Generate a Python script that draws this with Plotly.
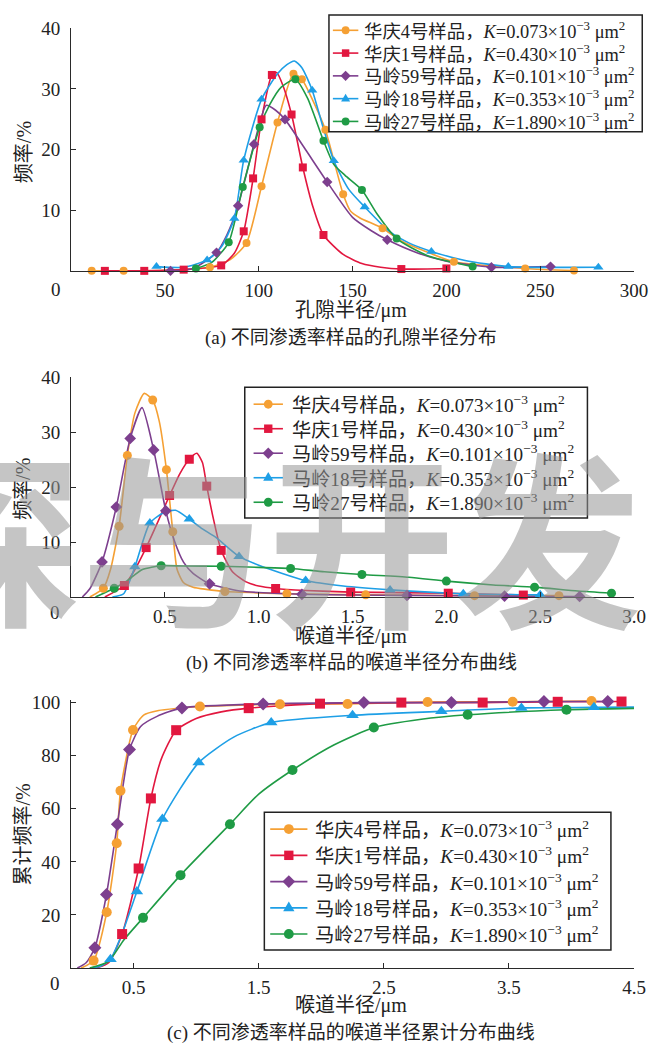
import plotly.graph_objects as go

# Window pixels; the page body margin is reset to 0 (post_script) so that
# figure pixels and window pixels coincide.
W, H = 668, 1045

names = ["华庆4号样品", "华庆1号样品", "马岭59号样品", "马岭18号样品", "马岭27号样品"]
k_values = ["0.073", "0.430", "0.101", "0.353", "1.890"]
colors = ["#F5A034", "#E2173F", "#7D3F8E", "#1E9FE6", "#1F9B45"]
symbols = ["circle", "square", "diamond", "triangle-up", "circle"]

# ---------------- (a) pore radius distribution ----------------
a_mx = [
    [11, 28, 74, 93.5, 101.5, 110, 118.5, 123, 135.5, 145, 166, 204, 242, 268],
    [18, 39, 60, 80, 92, 97, 101.5, 107, 117.5, 123.5, 134.5, 176, 200],
    [53, 77.5, 89, 97.5, 114, 136.5, 168.5, 224, 255.5],
    [45.5, 72.5, 87, 92, 101.5, 128.5, 140, 156.5, 192, 233, 281],
    [66.5, 84, 91.5, 100.5, 119.5, 134.5, 155, 173.5, 214],
]
a_my = [
    [0.1, 0.1, 0.7, 4.7, 14, 24.5, 32.5, 31.6, 23.3, 12.7, 7.1, 1.6, 0.5, 0.15],
    [0.1, 0.1, 0.3, 1.0, 6.6, 15.3, 25.0, 32.3, 25.8, 17.1, 6.0, 0.4, 0.5],
    [0.1, 3.1, 10.8, 20.9, 25.0, 14.7, 5.2, 0.7, 0.8],
    [0.8, 1.9, 8.7, 18.3, 28.3, 29.8, 18.2, 10.6, 3.3, 0.8, 0.7],
    [0.5, 4.8, 13.9, 23.7, 31.6, 21.5, 13.4, 5.4, 0.8],
]
a_lx = [
    [11, 28, 50, 74, 85, 93.5, 101.5, 110, 118.5, 123, 129, 135.5, 145, 149, 154, 166, 176, 188, 204, 242, 268],
    [18, 39, 60, 80, 87, 92, 97, 101.5, 107, 109.5, 113, 117.5, 123.5, 129, 134.5, 145, 155, 165, 176, 200],
    [53, 65, 77.5, 83, 89, 97.5, 104, 109, 114, 125, 136.5, 150, 160, 168.5, 185, 200, 224, 255.5],
    [45.5, 60, 72.5, 80, 87, 92, 101.5, 110, 115, 119, 123, 128.5, 134, 140, 148, 156.5, 170, 180, 192, 210, 233, 281],
    [66.5, 75, 84, 91.5, 100.5, 106, 112, 119.5, 126, 134.5, 140, 146, 155, 163, 173.5, 190, 214],
]
a_ly = [
    [0.1, 0.1, 0.2, 0.7, 2.0, 4.7, 14, 24.5, 32.5, 31.6, 28.0, 23.3, 12.7, 9.9, 8.8, 7.1, 5.0, 3.4, 1.6, 0.5, 0.15],
    [0.1, 0.1, 0.3, 1.0, 3.0, 6.6, 15.3, 25.0, 32.3, 32.7, 30.5, 25.8, 17.1, 10.5, 6.0, 2.8, 1.3, 0.7, 0.4, 0.5],
    [0.1, 0.5, 3.1, 6.0, 10.8, 20.9, 27.3, 26.5, 25.0, 20.0, 14.7, 8.9, 6.7, 5.2, 3.0, 1.7, 0.7, 0.8],
    [0.8, 0.7, 1.9, 4.0, 8.7, 18.3, 28.3, 32.5, 34.0, 34.6, 33.5, 29.8, 24.0, 18.2, 13.5, 10.6, 6.5, 4.7, 3.3, 1.8, 0.8, 0.7],
    [0.5, 1.5, 4.8, 13.9, 23.7, 27.5, 30.3, 31.6, 28.5, 21.5, 17.6, 15.8, 13.4, 9.5, 5.4, 2.6, 0.8],
]

# ---------------- (b) throat radius distribution ----------------
b_mx = [
    [0.172, 0.256, 0.30, 0.435, 0.508, 0.542, 0.82, 1.15, 1.57, 2.15, 2.6],
    [0.284, 0.40, 0.525, 0.63, 0.723, 0.80, 1.09, 1.49, 2.01, 2.41],
    [0.165, 0.241, 0.315, 0.44, 0.505, 0.738, 1.23, 1.79, 2.31, 2.71],
    [0.34, 0.42, 0.63, 0.895, 1.25, 1.70, 2.09, 2.50],
    [0.23, 0.48, 0.80, 1.17, 1.55, 2.0, 2.47, 2.88],
]
b_my = [
    [1.6, 12.9, 25.8, 35.9, 23.2, 11.9, 1.0, 0.6, 0.4, 0.25, 0.25],
    [2.1, 9.0, 18.5, 25.1, 20.2, 8.5, 1.55, 0.9, 0.7, 0.36],
    [6.4, 16.4, 28.9, 26.8, 15.7, 2.4, 0.5, 0.3, 0.15, 0.1],
    [5.5, 13.5, 14.2, 7.4, 3.0, 1.3, 0.6, 0.4],
    [1.6, 5.7, 5.6, 5.2, 4.1, 2.9, 1.8, 0.7],
]
b_lx = [
    [0.10, 0.172, 0.21, 0.256, 0.30, 0.34, 0.39, 0.435, 0.47, 0.508, 0.542, 0.565, 0.60, 0.65, 0.72, 0.82, 1.0, 1.15, 1.57, 2.15, 2.6],
    [0.18, 0.284, 0.34, 0.40, 0.46, 0.525, 0.58, 0.63, 0.67, 0.70, 0.723, 0.76, 0.80, 0.86, 0.93, 1.0, 1.09, 1.25, 1.49, 2.01, 2.41],
    [0.06, 0.10, 0.165, 0.241, 0.315, 0.378, 0.44, 0.505, 0.55, 0.60, 0.65, 0.738, 0.90, 1.23, 1.79, 2.31, 2.71],
    [0.22, 0.28, 0.34, 0.42, 0.50, 0.557, 0.63, 0.70, 0.77, 0.895, 1.0, 1.25, 1.45, 1.70, 2.09, 2.50],
    [0.13, 0.23, 0.30, 0.38, 0.48, 0.60, 0.80, 1.0, 1.17, 1.35, 1.55, 1.80, 2.0, 2.25, 2.47, 2.70, 2.88],
]
b_ly = [
    [0.0, 1.6, 5.0, 12.9, 25.8, 33.5, 37.1, 35.9, 32.0, 23.2, 11.9, 5.0, 2.6, 1.8, 1.4, 1.0, 0.75, 0.6, 0.4, 0.25, 0.25],
    [0.0, 2.1, 5.0, 9.0, 13.5, 18.5, 22.5, 25.1, 26.2, 24.5, 20.2, 14.0, 8.5, 4.6, 2.8, 2.0, 1.55, 1.2, 0.9, 0.7, 0.36],
    [0.0, 1.5, 6.4, 16.4, 28.9, 34.5, 26.8, 15.7, 10.3, 6.3, 4.3, 2.4, 1.1, 0.5, 0.3, 0.15, 0.1],
    [0.0, 0.6, 5.5, 13.5, 15.5, 15.8, 14.2, 12.4, 10.9, 7.4, 5.8, 3.0, 2.0, 1.3, 0.6, 0.4],
    [0.0, 1.6, 3.0, 5.0, 5.7, 5.65, 5.6, 5.4, 5.2, 4.6, 4.1, 3.6, 2.9, 2.2, 1.8, 1.1, 0.7],
]

# ---------------- (c) cumulative throat radius distribution ----------------
c_mx = [
    [0.18, 0.285, 0.365, 0.395, 0.495, 1.03, 1.67, 2.21, 2.85, 3.53, 4.16],
    [0.408, 0.54, 0.638, 0.84, 1.42, 1.99, 2.64, 3.29, 3.89, 4.40],
    [0.19, 0.283, 0.37, 0.467, 0.886, 1.535, 2.34, 3.04, 3.78, 4.29],
    [0.315, 0.526, 0.73, 1.02, 1.60, 2.25, 2.96, 3.60, 4.18],
    [0.575, 0.875, 1.27, 1.77, 2.42, 3.17, 3.96],
]
c_my = [
    [2.8, 21.0, 47.0, 66.8, 89.7, 98.5, 99.4, 99.5, 100.2, 100.3, 100.6],
    [12.8, 37.5, 63.9, 89.6, 97.9, 99.6, 100.0, 100.0, 100.3, 100.4],
    [7.6, 27.7, 54.2, 82.3, 98.0, 99.5, 100.0, 100.0, 100.4, 100.4],
    [3.3, 28.8, 56.1, 77.4, 92.5, 95.2, 96.7, 98.0, 98.2],
    [18.9, 35.0, 54.2, 74.6, 90.6, 95.4, 97.3],
]
c_lx = [
    [0.08, 0.18, 0.285, 0.365, 0.395, 0.495, 0.58, 0.70, 0.85, 1.03, 1.67, 2.21, 2.85, 3.53, 4.16],
    [0.20, 0.30, 0.408, 0.54, 0.638, 0.72, 0.84, 1.0, 1.2, 1.42, 1.99, 2.64, 3.29, 3.89, 4.40],
    [0.05, 0.12, 0.19, 0.283, 0.37, 0.467, 0.556, 0.687, 0.886, 1.535, 2.34, 3.04, 3.78, 4.29],
    [0.15, 0.24, 0.315, 0.40, 0.526, 0.73, 1.02, 1.30, 1.60, 2.25, 2.96, 3.60, 4.18, 4.50],
    [0.15, 0.30, 0.42, 0.575, 0.875, 1.27, 1.50, 1.77, 2.10, 2.42, 2.80, 3.17, 3.96, 4.50],
]
c_ly = [
    [0.0, 2.8, 21.0, 47.0, 66.8, 89.7, 95.3, 97.0, 97.8, 98.5, 99.4, 99.5, 100.2, 100.3, 100.6],
    [0.0, 2.0, 12.8, 37.5, 63.9, 78.6, 89.6, 94.0, 96.5, 97.9, 99.6, 100.0, 100.0, 100.3, 100.4],
    [0.0, 2.0, 7.6, 27.7, 54.2, 82.3, 91.0, 94.8, 98.0, 99.5, 100.0, 100.0, 100.4, 100.4],
    [0.0, 0.8, 3.3, 12.0, 28.8, 56.1, 77.4, 87.0, 92.5, 95.2, 96.7, 98.0, 98.2, 98.3],
    [0.0, 2.5, 10.5, 18.9, 35.0, 54.2, 65.5, 74.6, 84.0, 90.6, 93.7, 95.4, 97.3, 97.8],
]

# ---------------- texts & ticks ----------------
xtitles = ["孔隙半径/μm", "喉道半径/μm", "喉道半径/μm"]
ytitles = ["频率/%", "频率/%", "累计频率/%"]
captions = ["(a) 不同渗透率样品的孔隙半径分布",
            "(b) 不同渗透率样品的喉道半径分布曲线",
            "(c) 不同渗透率样品的喉道半径累计分布曲线"]
watermark = "探与开发"

x_ticks = [[50, 100, 150, 200, 250, 300],
           [0.5, 1.0, 1.5, 2.0, 2.5, 3.0],
           [0.5, 1.5, 2.5, 3.5, 4.5]]
x_ticktext = [["50", "100", "150", "200", "250", "300"],
              ["0.5", "1.0", "1.5", "2.0", "2.5", "3.0"],
              ["0.5", "1.5", "2.5", "3.5", "4.5"]]
y_ticks = [[10, 20, 30, 40], [10, 20, 30, 40], [20, 40, 60, 80, 100]]
x_ranges = [[0, 300], [0, 3], [0, 4.5]]
y_ranges = [[0, 40], [0, 40], [0, 101]]


def px2x(p):
    return p / W


def px2y(p):
    return 1 - p / H


x_dom = [px2x(72.6), px2x(647.6)]
y_doms = [[px2y(264.0), px2y(18.3)],
          [px2y(592.7), px2y(371.0)],
          [px2y(967.3), px2y(696.6)]]

FONT = "Liberation Serif, Noto Sans CJK SC, serif"
AXC = "#2a2a2a"
TXC = "#222222"

fig = go.Figure()

panels = [(a_mx, a_my, a_lx, a_ly), (b_mx, b_my, b_lx, b_ly), (c_mx, c_my, c_lx, c_ly)]
msizes = [8, 9, 10]

for p, (mx, my, lx, ly) in enumerate(panels):
    xa = "x" if p == 0 else f"x{p+1}"
    ya = "y" if p == 0 else f"y{p+1}"
    for i in range(5):
        fig.add_trace(go.Scatter(
            x=lx[i], y=ly[i], mode="lines", xaxis=xa, yaxis=ya,
            line=dict(color=colors[i], width=1.6, shape="spline", smoothing=0.6),
            showlegend=False, cliponaxis=False, hoverinfo="skip"))
    for i in range(5):
        fig.add_trace(go.Scatter(
            x=mx[i], y=my[i], mode="markers", xaxis=xa, yaxis=ya,
            name=names[i],
            marker=dict(symbol=symbols[i], size=msizes[p] + (1 if symbols[i] == "triangle-up" else 0),
                        color=colors[i], line=dict(width=0)),
            showlegend=False, cliponaxis=False))

axis_common = dict(showline=True, linecolor=AXC, linewidth=1.2, ticks="inside",
                   ticklen=5, tickcolor=AXC, tickwidth=1.2, showgrid=False, zeroline=False,
                   tickfont=dict(family=FONT, size=19, color=TXC))

layout = dict(width=W, height=H, autosize=False, margin=dict(l=0, r=0, t=0, b=0),
              paper_bgcolor="white", plot_bgcolor="rgba(0,0,0,0)", showlegend=False,
              font=dict(family=FONT, size=18, color=TXC))

for p in range(3):
    sx = "" if p == 0 else str(p + 1)
    layout[f"xaxis{sx}"] = dict(axis_common, domain=x_dom, range=x_ranges[p],
                                 tickvals=x_ticks[p], ticktext=x_ticktext[p],
                                 anchor=f"y{sx}", ticklabelstandoff=2)
    layout[f"yaxis{sx}"] = dict(axis_common, domain=y_doms[p], range=y_ranges[p],
                                 tickvals=y_ticks[p], anchor=f"x{sx}", ticklabelstandoff=6)

# ---------------- hand-built legends (pixels) ----------------
legend_geo = [
    dict(box=(336, 5, 656, 123), sym=(340, 366), tx=370, y0=20.5, dy=23.0, fs=18.4, ms=8),
    dict(box=(250, 381, 600, 513), sym=(259, 289), tx=296, y0=398.0, dy=24.75, fs=19.2, ms=9),
    dict(box=(270, 810, 624, 949), sym=(276, 314), tx=320, y0=827.0, dy=26.5, fs=19.3, ms=10),
]

shapes = []
annotations = []


def marker_shape(sym, cx, cy, size, color):
    h = size / 2.0
    if sym == "circle":
        return dict(type="circle", xref="paper", yref="paper",
                    x0=px2x(cx - h), x1=px2x(cx + h), y0=px2y(cy + h), y1=px2y(cy - h),
                    fillcolor=color, line=dict(width=0))
    if sym == "square":
        h2 = h * 0.95
        return dict(type="rect", xref="paper", yref="paper",
                    x0=px2x(cx - h2), x1=px2x(cx + h2), y0=px2y(cy + h2), y1=px2y(cy - h2),
                    fillcolor=color, line=dict(width=0))
    if sym == "diamond":
        h2 = h * 1.3
        pts = [(cx, cy - h2), (cx + h2, cy), (cx, cy + h2), (cx - h2, cy)]
    else:
        h2 = h * 1.15
        pts = [(cx - h2, cy + h2 * 0.6), (cx + h2, cy + h2 * 0.6), (cx, cy - h2 * 1.1)]
    path = "M " + " L ".join(f"{px2x(x):.5f},{px2y(y):.5f}" for x, y in pts) + " Z"
    return dict(type="path", xref="paper", yref="paper", path=path,
                fillcolor=color, line=dict(width=0))


for g in legend_geo:
    l, t, r, b = g["box"]
    shapes.append(dict(type="rect", xref="paper", yref="paper",
                       x0=px2x(l), x1=px2x(r), y0=px2y(b), y1=px2y(t),
                       line=dict(color="#222", width=1.5), fillcolor="rgba(0,0,0,0)"))
    sx0, sx1 = g["sym"]
    for i in range(5):
        ry = g["y0"] + i * g["dy"]
        shapes.append(dict(type="line", xref="paper", yref="paper",
                           x0=px2x(sx0), x1=px2x(sx1), y0=px2y(ry), y1=px2y(ry),
                           line=dict(color=colors[i], width=1.6)))
        shapes.append(marker_shape(symbols[i], (sx0 + sx1) / 2.0, ry, g["ms"], colors[i]))
        label = f"{names[i]}，<i>K</i>={k_values[i]}×10<sup>−3</sup> μm<sup>2</sup>"
        annotations.append(dict(text=label, x=px2x(g["tx"]), y=px2y(ry),
                                xref="paper", yref="paper", xanchor="left", yanchor="middle",
                                showarrow=False,
                                font=dict(family=FONT, size=g["fs"], color=TXC)))

# ---------------- titles, captions ----------------
xt_pos = [(359, 303), (359, 633), (359, 1005)]
cap_pos = [(359, 331), (359, 659), (359, 1033)]
yt_pos = [(24, 143), (24, 483), (24, 832)]
zero_pos = [(57, 282), (56, 608), (56, 983)]
for p in range(3):
    annotations.append(dict(text=xtitles[p], x=px2x(xt_pos[p][0]), y=px2y(xt_pos[p][1]),
                            xref="paper", yref="paper", xanchor="center", yanchor="middle",
                            showarrow=False, font=dict(family=FONT, size=20, color=TXC)))
    annotations.append(dict(text=captions[p], x=px2x(cap_pos[p][0]), y=px2y(cap_pos[p][1]),
                            xref="paper", yref="paper", xanchor="center", yanchor="middle",
                            showarrow=False, font=dict(family=FONT, size=19, color=TXC)))
    annotations.append(dict(text=ytitles[p], x=px2x(yt_pos[p][0]), y=px2y(yt_pos[p][1]),
                            xref="paper", yref="paper", xanchor="center", yanchor="middle",
                            showarrow=False, textangle=-90,
                            font=dict(family=FONT, size=20, color=TXC)))
    annotations.append(dict(text="0", x=px2x(zero_pos[p][0]), y=px2y(zero_pos[p][1]),
                            xref="paper", yref="paper", xanchor="center", yanchor="middle",
                            showarrow=False, font=dict(family=FONT, size=19, color=TXC)))

# faint watermark across panel (b)
annotations.append(dict(text=watermark, x=px2x(-110), y=px2y(528), xanchor="left", yanchor="middle",
                        xref="paper", yref="paper", showarrow=False,
                        font=dict(family="Noto Sans CJK SC", size=187,
                                  color="rgba(150,150,150,0.55)", weight=700)))

layout["shapes"] = shapes
layout["annotations"] = annotations

fig.update_layout(**layout)
fig.write_html("out.html", config={"displayModeBar": False},
               post_script="document.body.style.margin='0px';")
